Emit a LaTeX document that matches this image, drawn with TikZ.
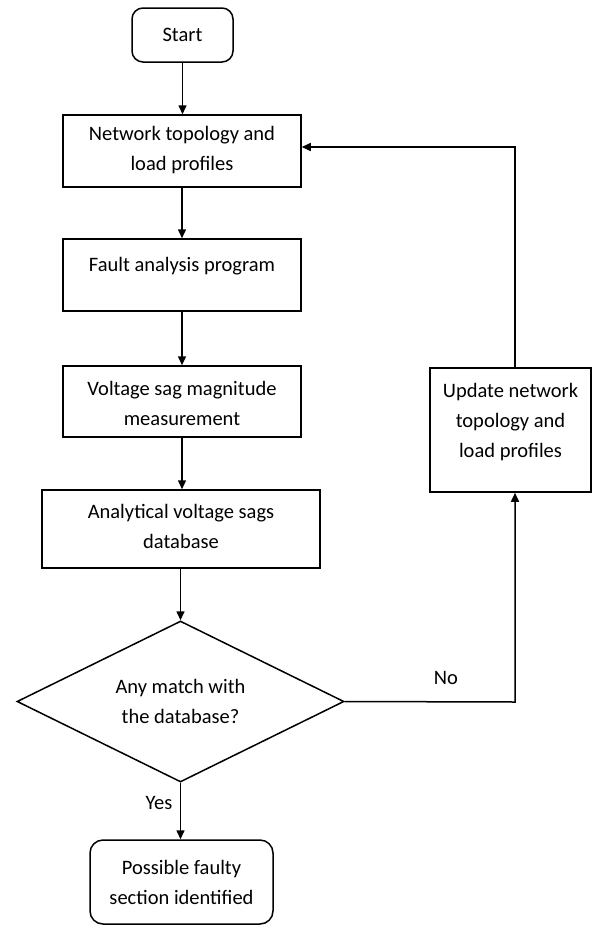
\documentclass[tikz,border=0pt]{standalone}
\usepackage{fontspec}
\setmainfont{Carlito}
\usetikzlibrary{arrows.meta,shapes.geometric}

\begin{document}
\begin{tikzpicture}[x=1pt,y=-1pt,
  every node/.style={font=\fontsize{20.5}{30}\selectfont, inner sep=0pt},
  stepbox/.style={draw, line width=1.5pt, rectangle},
  termbox/.style={draw, line width=1.5pt, rectangle, rounded corners=11pt, align=center},
  decbox/.style={draw, line width=1.5pt, diamond, aspect=2, align=center},
  txt/.style={align=center},
  flow/.style={line width=1.5pt, -{Triangle[length=9pt,width=8pt]}}]
  \useasboundingbox (0,0) rectangle (593,926);

  % terminals and process boxes
  \node[termbox, minimum width=101pt, minimum height=54pt] (start) at (182.5,35) {Start};
  \node[stepbox, minimum width=238pt, minimum height=72pt] (topo) at (182,151) {};
  \node[txt] (topot) at (182,150) {Network topology and\\load profiles};
  \node[stepbox, minimum width=238pt, minimum height=72pt] (fault) at (182,275) {};
  \node[txt] (faultt) at (182,266) {Fault analysis program};
  \node[stepbox, minimum width=238pt, minimum height=71pt] (sag) at (182,401.5) {};
  \node[txt] (sagt) at (182,403) {Voltage sag magnitude\\measurement};
  \node[stepbox, minimum width=278pt, minimum height=78pt] (db) at (181,529) {};
  \node[txt] (dbt) at (181,526) {Analytical voltage sags\\database};
  \node[decbox, minimum width=327pt, minimum height=161pt] (match) at (180.5,701.5) {Any match with\\the database?};
  \node[termbox, minimum width=183pt, minimum height=84pt, rounded corners=13pt] (found) at (181.5,882) {Possible faulty\\section identified};
  \node[stepbox, minimum width=161pt, minimum height=124pt] (upd) at (510.5,430) {};
  \node[txt] (updt) at (510.5,422) {Update network\\topology and\\load profiles};

  % loop-back route
  \coordinate (noturn) at (515,702);
  \coordinate (backturn) at (515,147);

  % main flow
  \draw[flow] (start.south) -- (start.south |- topo.north);
  \draw[flow] (topo.south) -- (fault.north);
  \draw[flow] (fault.south) -- (sag.north);
  \draw[flow] (sag.south) -- (sag.south |- db.north);
  \draw[flow] (db.south -| match.north) -- (match.north);
  \draw[flow] (match.south) -- (found.north -| match.south);

  % "No" branch back to the top
  \draw[flow] (match.east) -- (noturn) -- (upd.south -| noturn);
  \draw[flow] (upd.north -| backturn) -- (backturn) -- (topo.east |- backturn);

  % branch labels
  \node (yes) at (159,803) {Yes};
  \node (no) at (446,678) {No};
\end{tikzpicture}
\end{document}
